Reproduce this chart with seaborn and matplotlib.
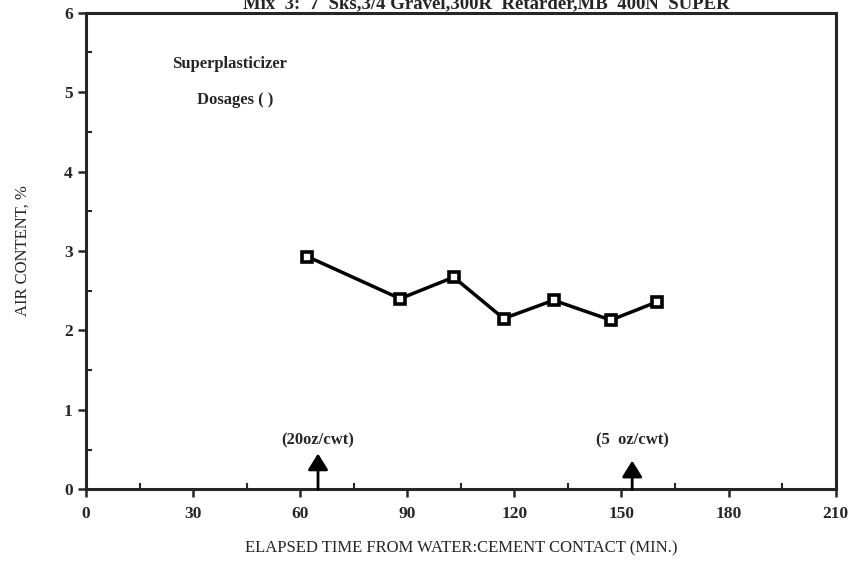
import numpy as np
import pandas as pd
import seaborn as sns
import matplotlib.pyplot as plt
from matplotlib.ticker import MultipleLocator

# values
elapsed_min = [62, 88, 103, 117, 131, 147, 160]
air_pct = [2.93, 2.40, 2.67, 2.15, 2.38, 2.13, 2.36]

dose_times = [65, 153]
dose_labels = ['(20oz/cwt)', '(5  oz/cwt)']
dose_arrow_top = [0.45, 0.36]

title = 'Mix  3:  7  Sks,3/4 Gravel,300R  Retarder,MB  400N  SUPER'

sns.set_style('ticks')
plt.rcParams['font.family'] = ['Liberation Serif', 'DejaVu Serif']
plt.rcParams['font.weight'] = 'bold'

df = pd.DataFrame({'t': elapsed_min, 'air': air_pct})

fig = plt.figure(figsize=(8.51, 5.79), dpi=100)
ax = fig.add_axes([0.101, 0.155, 0.881, 0.823])

sns.lineplot(data=df, x='t', y='air', ax=ax, color='black', linewidth=2.5,
             marker='s', markersize=6.5, markerfacecolor='white',
             markeredgecolor='black', markeredgewidth=2.6)

ax.set_xlim(0, 210)
ax.set_ylim(0, 6)
ax.xaxis.set_major_locator(MultipleLocator(30))
ax.xaxis.set_minor_locator(MultipleLocator(15))
ax.yaxis.set_major_locator(MultipleLocator(1))
ax.yaxis.set_minor_locator(MultipleLocator(0.5))
ax.tick_params(which='major', length=6, width=1.8, labelsize=12.5, direction='out')
ax.tick_params(which='minor', length=4, width=1.5, direction='in')
ax.tick_params(axis='x', pad=6)
for lab in ax.get_xticklabels() + ax.get_yticklabels():
    lab.set_fontweight('bold')
for s in ax.spines.values():
    s.set_linewidth(2.2)

ax.set_xlabel('ELAPSED TIME FROM WATER:CEMENT CONTACT (MIN.)', fontsize=12,
              fontweight='normal', labelpad=13)
ax.set_ylabel('AIR CONTENT, %', fontsize=12, fontweight='normal', labelpad=24)

ax.text(24, 5.35, 'Superplasticizer', fontsize=12, fontweight='bold', va='center')
ax.text(31, 4.9, 'Dosages ( )', fontsize=12, fontweight='bold', va='center')

for x, lab, top in zip(dose_times, dose_labels, dose_arrow_top):
    ax.annotate('', xy=(x, top), xytext=(x, 0),
                arrowprops=dict(arrowstyle='-|>,head_length=0.45,head_width=0.28',
                                color='black', lw=2, mutation_scale=22,
                                shrinkA=0, shrinkB=0))
    ax.text(x, 0.62, lab, fontsize=12, fontweight='bold', ha='center', va='center')

fig.text(0.572, 0.993, title, fontsize=13.5, fontweight='bold',
         ha='center', va='center')

fig.savefig('out.png', dpi=100)
